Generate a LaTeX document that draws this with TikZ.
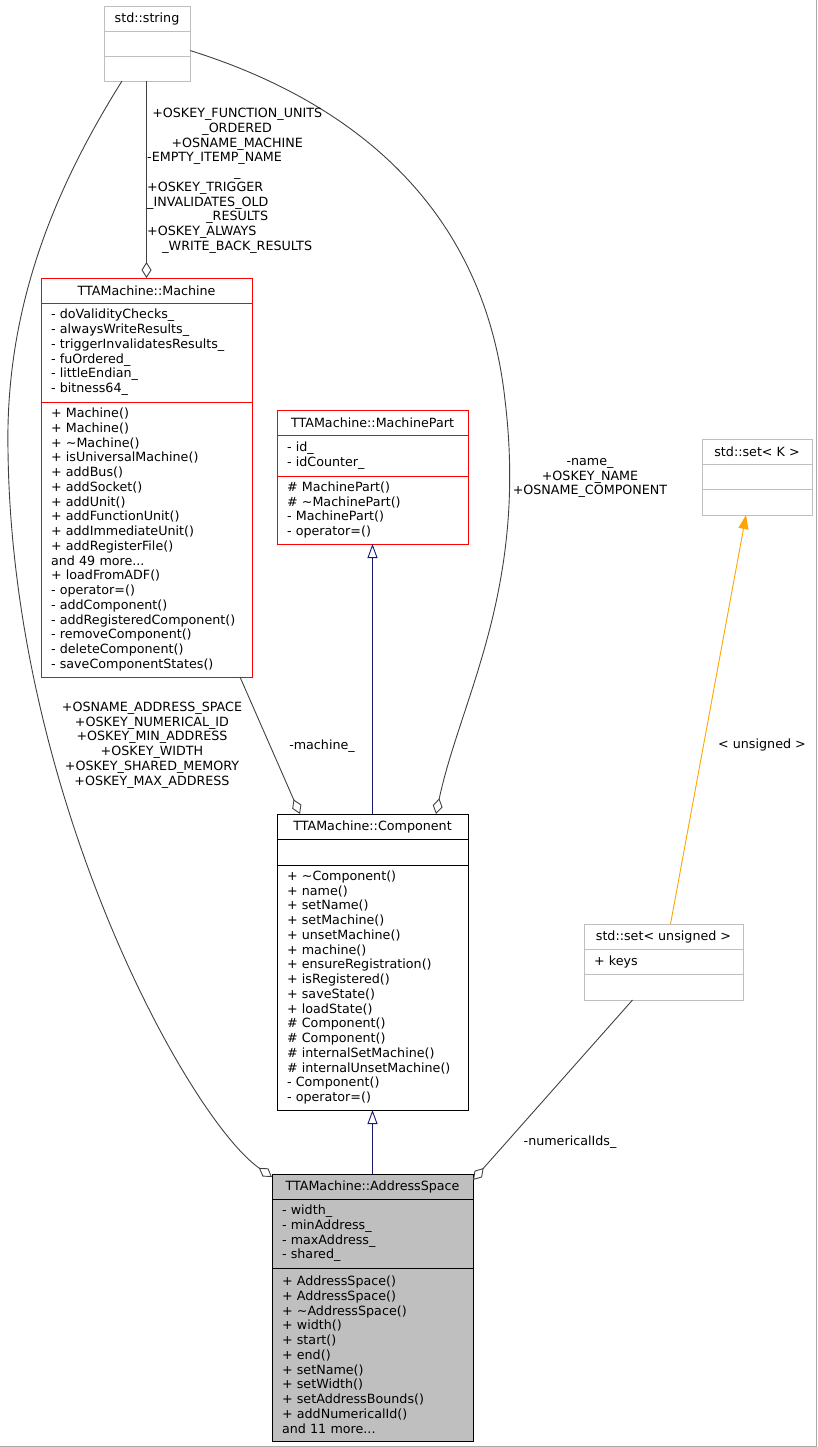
\documentclass[tikz,border=0pt]{standalone}
\usepackage{fontspec}
\setmainfont{DejaVu Sans}
\usepackage{tikz}
\usetikzlibrary{positioning,arrows.meta,calc}
\definecolor{boxgrey}{HTML}{BFBFBF}
\definecolor{edgegrey}{HTML}{404040}
\definecolor{midblue}{HTML}{191970}
\definecolor{tplorange}{HTML}{FFA500}
\definecolor{framegrey}{HTML}{AAAAAA}
\newcommand{\ctr}[1]{\makebox[180pt][c]{#1}}

\begin{document}
\begin{tikzpicture}[
    x=1pt, y=1pt,
    font=\fontsize{12.7}{14.75}\selectfont,
    classhead/.style={draw, rectangle, anchor=north west, inner sep=0pt, outer sep=0pt, minimum height=25pt, line width=0.9pt},
    classpart/.style={draw, rectangle, align=left, inner xsep=10pt, inner ysep=0pt, outer sep=0pt, line width=0.9pt},
    assoc/.style={draw=edgegrey, line width=0.9pt, -{Diamond[open, length=16pt, width=10pt]}},
    inherit/.style={draw=midblue, line width=0.9pt, -{Triangle[open, length=14pt, width=10pt]}},
    templ/.style={draw=tplorange, line width=0.9pt, -{Triangle[length=14pt, width=10pt, fill=tplorange]}},
    edgelabel/.style={inner sep=0pt, align=center}
]
    \useasboundingbox (0,0) rectangle (817,-1447);

    % std::string
    \node[classhead, draw=boxgrey, minimum width=86pt] (strname) at (104,-6) {std::string};
    \node[classpart, draw=boxgrey, below=0pt of strname, text width=66pt, minimum height=25pt] (strattr) {};
    \node[classpart, draw=boxgrey, below=0pt of strattr, text width=66pt, minimum height=25pt] (strops) {};

    % TTAMachine::Machine
    \node[classhead, draw=red, minimum width=211pt] (machname) at (41,-278) {TTAMachine::Machine};
    \node[classpart, draw=red, below=0pt of machname, text width=191pt, minimum height=99pt] (machattr) {%
        - doValidityChecks\_\\
        - alwaysWriteResults\_\\
        - triggerInvalidatesResults\_\\
        - fuOrdered\_\\
        - littleEndian\_\\
        - bitness64\_};
    \node[classpart, draw=red, below=0pt of machattr, text width=191pt, minimum height=275pt] (machops) {%
        + Machine()\\
        + Machine()\\
        + \textasciitilde Machine()\\
        + isUniversalMachine()\\
        + addBus()\\
        + addSocket()\\
        + addUnit()\\
        + addFunctionUnit()\\
        + addImmediateUnit()\\
        + addRegisterFile()\\
        and 49 more...\\
        + loadFromADF()\\
        - operator=()\\
        - addComponent()\\
        - addRegisteredComponent()\\
        - removeComponent()\\
        - deleteComponent()\\
        - saveComponentStates()};

    % TTAMachine::MachinePart
    \node[classhead, draw=red, minimum width=191pt] (partname) at (277,-410) {TTAMachine::MachinePart};
    \node[classpart, draw=red, below=0pt of partname, text width=171pt, minimum height=41pt] (partattr) {%
        - id\_\\
        - idCounter\_};
    \node[classpart, draw=red, below=0pt of partattr, text width=171pt, minimum height=68pt] (partops) {%
        \# MachinePart()\\
        \# \textasciitilde MachinePart()\\
        - MachinePart()\\
        - operator=()};

    % std::set< K >
    \node[classhead, draw=boxgrey, minimum width=110pt] (setkname) at (702,-439) {std::set< K >};
    \node[classpart, draw=boxgrey, below=0pt of setkname, text width=90pt, minimum height=25pt] (setkattr) {};
    \node[classpart, draw=boxgrey, below=0pt of setkattr, text width=90pt, minimum height=26pt] (setkops) {};

    % TTAMachine::Component
    \node[classhead, minimum width=191pt] (compname) at (277,-814) {TTAMachine::Component};
    \node[classpart, below=0pt of compname, text width=171pt, minimum height=26pt] (compattr) {};
    \node[classpart, below=0pt of compattr, text width=171pt, minimum height=245pt] (compops) {%
        + \textasciitilde Component()\\
        + name()\\
        + setName()\\
        + setMachine()\\
        + unsetMachine()\\
        + machine()\\
        + ensureRegistration()\\
        + isRegistered()\\
        + saveState()\\
        + loadState()\\
        \# Component()\\
        \# Component()\\
        \# internalSetMachine()\\
        \# internalUnsetMachine()\\
        - Component()\\
        - operator=()};

    % std::set< unsigned >
    \node[classhead, draw=boxgrey, minimum width=159pt] (setuname) at (584,-924) {std::set< unsigned >};
    \node[classpart, draw=boxgrey, below=0pt of setuname, text width=139pt, minimum height=25pt] (setuattr) {+ keys};
    \node[classpart, draw=boxgrey, below=0pt of setuattr, text width=139pt, minimum height=26pt] (setuops) {};

    % TTAMachine::AddressSpace
    \node[classhead, fill=boxgrey, minimum width=201pt] (asname) at (272,-1174) {TTAMachine::AddressSpace};
    \node[classpart, fill=boxgrey, below=0pt of asname, text width=181pt, minimum height=69pt] (asattr) {%
        - width\_\\
        - minAddress\_\\
        - maxAddress\_\\
        - shared\_};
    \node[classpart, fill=boxgrey, below=0pt of asattr, text width=181pt, minimum height=173pt] (asops) {%
        + AddressSpace()\\
        + AddressSpace()\\
        + \textasciitilde AddressSpace()\\
        + width()\\
        + start()\\
        + end()\\
        + setName()\\
        + setWidth()\\
        + setAddressBounds()\\
        + addNumericalId()\\
        and 11 more...};

    % connectors
    \draw[assoc] ([xshift=18pt]strops.south west) .. controls (60,-180) and (5,-300) .. (8,-450)
        .. controls (12,-800) and (190,-1120) .. ([yshift=-3pt]asname.north west);
    \draw[assoc] (machname.north |- strops.south) -- (machname.north);
    \draw[assoc] ([yshift=-7pt]strattr.east) .. controls (300,-85) and (480,-170) .. (505,-400)
        .. controls (528,-590) and (460,-700) .. ([xshift=-32pt]compname.north east);
    \draw[assoc] ([xshift=-12pt]machops.south east) -- ([xshift=23pt]compname.north west);
    \draw[inherit] (compname.north) -- (partops.south);
    \draw[inherit] (asname.north) -- (compops.south);
    \draw[templ] ([xshift=7pt]setuname.north) -- ([xshift=-11pt]setkops.south);
    \draw[assoc] ([xshift=-31pt]setuops.south) -- ([yshift=-6pt]asname.north east);

    % labels
    \node[edgelabel, anchor=north west, text width=180pt, align=left] (strmachlabel) at (147,-108) {%
        \ctr{+OSKEY\_FUNCTION\_UNITS}\\
        \ctr{\_ORDERED}\\
        \ctr{+OSNAME\_MACHINE}\\
        -EMPTY\_ITEMP\_NAME\\
        \ctr{\_}\\
        +OSKEY\_TRIGGER\\
        \_INVALIDATES\_OLD\\
        \ctr{\_RESULTS}\\
        +OSKEY\_ALWAYS\\
        \ctr{\_WRITE\_BACK\_RESULTS}};
    \node[edgelabel] (strcomplabel) at (590,-478) {-name\_\\+OSKEY\_NAME\\+OSNAME\_COMPONENT};
    \node[edgelabel] (straslabel) at (152,-745) {+OSNAME\_ADDRESS\_SPACE\\+OSKEY\_NUMERICAL\_ID\\+OSKEY\_MIN\_ADDRESS\\+OSKEY\_WIDTH\\+OSKEY\_SHARED\_MEMORY\\+OSKEY\_MAX\_ADDRESS};
    \node[edgelabel] (machlabel) at (322,-746) {-machine\_};
    \node[edgelabel] (setlabel) at (762,-745) {< unsigned >};
    \node[edgelabel] (idslabel) at (570,-1142) {-numericalIds\_};

    % frame
    \draw[framegrey, line width=1pt] (816.5,0) -- (816.5,-1447);
    \draw[framegrey, line width=1pt] (0,-1446.5) -- (817,-1446.5);
\end{tikzpicture}
\end{document}
